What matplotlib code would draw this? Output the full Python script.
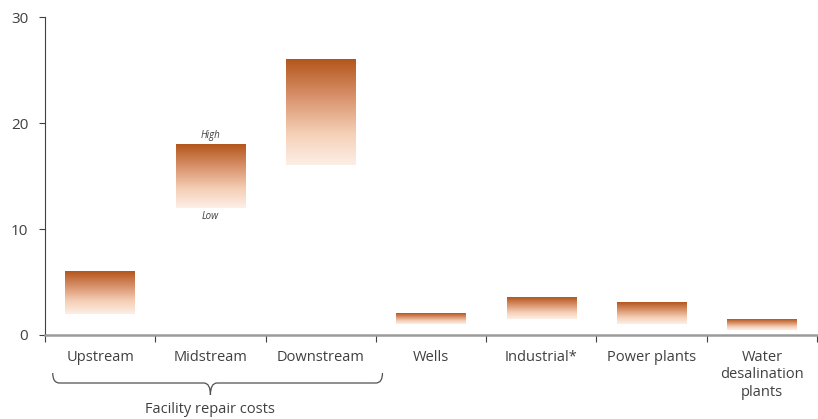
import matplotlib
matplotlib.use("Agg")
import matplotlib.pyplot as plt
import numpy as np
from matplotlib.colors import LinearSegmentedColormap
from matplotlib.path import Path
from matplotlib.patches import PathPatch
from matplotlib.transforms import blended_transform_factory

categories = ["Upstream", "Midstream", "Downstream", "Wells", "Industrial*",
              "Power plants", "Water\ndesalination\nplants"]
low_values = [2, 12, 16, 1, 1.5, 1, 0.5]
high_values = [6, 18, 26, 2, 3.5, 3, 1.5]
y_ticks = [0, 10, 20, 30]
group_label = "Facility repair costs"

plt.rcParams["font.family"] = ["Open Sans", "DejaVu Sans"]
text_color = "#404040"

fig = plt.figure(figsize=(8.18, 4.19), dpi=100)
ax = fig.add_axes([45 / 818, 1 - 335 / 419, 772 / 818, 318 / 419])

cmap = LinearSegmentedColormap.from_list(
    "range_fade",
    [(0.0, "#B4561C"), (0.35, "#D8916A"), (0.7, "#F5CFB6"), (1.0, "#FDEFE6")])
gradient = np.linspace(0, 1, 256).reshape(-1, 1)

bar_w = 0.63
for i, (lo, hi) in enumerate(zip(low_values, high_values)):
    ax.imshow(gradient, cmap=cmap, aspect="auto", interpolation="bilinear",
              extent=(i - bar_w / 2, i + bar_w / 2, lo, hi), origin="upper",
              zorder=2)

# High / Low annotations on the midstream range
mid = 1
ax.text(mid, high_values[mid] + 0.3, "High", ha="center", va="bottom",
        fontsize=7, style="italic", color=text_color)
ax.text(mid, low_values[mid] - 0.3, "Low", ha="center", va="top",
        fontsize=7, style="italic", color=text_color)

ax.set_xlim(-0.5, len(categories) - 0.5)
ax.set_ylim(0, 30)
ax.set_yticks(y_ticks)
ax.tick_params(axis="y", length=4, width=0.8, color="#404040",
               labelsize=11, labelcolor=text_color, pad=8)

ax.set_xticks(np.arange(len(categories)))
ax.set_xticklabels(categories, fontsize=10.5, color=text_color, linespacing=1.25)
ax.tick_params(axis="x", which="major", length=0, pad=10.5)
ax.set_xticks(np.arange(len(categories) + 1) - 0.5, minor=True)
ax.tick_params(axis="x", which="minor", length=5, width=0.8, color="#404040",
               direction="out")

for s in ["top", "right"]:
    ax.spines[s].set_visible(False)
ax.spines["left"].set_color("#404040")
ax.spines["left"].set_linewidth(0.8)
ax.spines["bottom"].set_color("#9a9a9a")
ax.spines["bottom"].set_linewidth(1.8)
ax.spines["bottom"].set_zorder(3)

# Brace grouping the facility repair categories
trans = blended_transform_factory(ax.transData, fig.transFigure)
x0, x1, xc = -0.43, 2.56, 1.0
y_top, y_mid, y_bot = 1 - 373 / 419, 1 - 383 / 419, 1 - 395 / 419
dx = 0.06
verts = [(x0, y_top), (x0, y_mid), (x0 + dx, y_mid),
         (xc - dx, y_mid), (xc, y_mid), (xc, y_bot),
         (xc, y_mid), (xc + dx, y_mid),
         (x1 - dx, y_mid), (x1, y_mid), (x1, y_top)]
codes = [Path.MOVETO, Path.CURVE3, Path.CURVE3,
         Path.LINETO, Path.CURVE3, Path.CURVE3,
         Path.CURVE3, Path.CURVE3,
         Path.LINETO, Path.CURVE3, Path.CURVE3]
brace = PathPatch(Path(verts, codes), transform=trans, fill=False,
                  edgecolor="#505050", linewidth=0.9, clip_on=False)
fig.add_artist(brace)
fig.text(xc, 1 - 409 / 419, group_label, transform=trans, ha="center",
         va="center", fontsize=10.5, color=text_color)

fig.savefig("out.png", dpi=100, facecolor="white")
